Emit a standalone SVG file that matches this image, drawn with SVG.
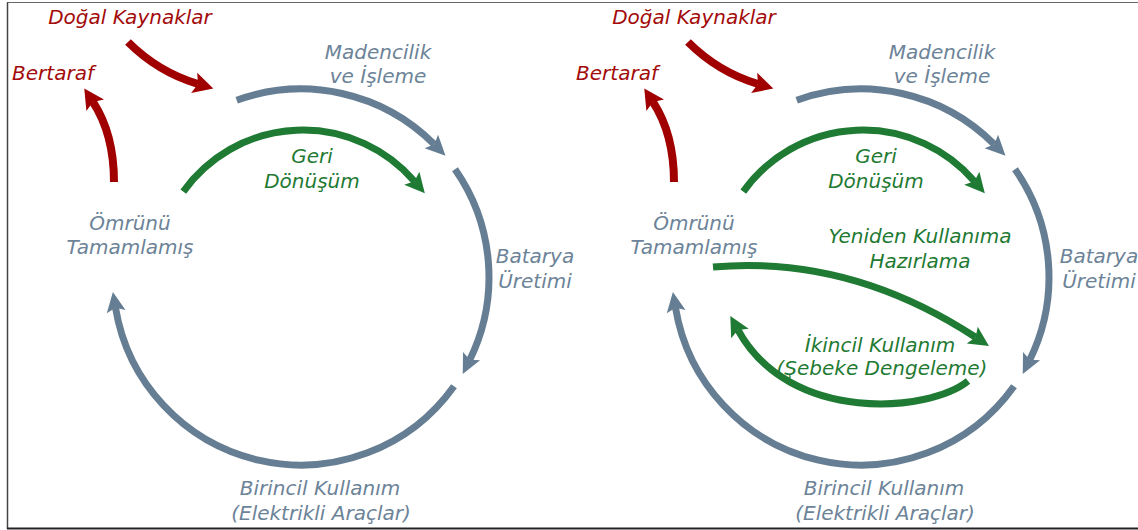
<svg xmlns="http://www.w3.org/2000/svg" width="1138" height="530" viewBox="0 0 1138 530">
<style>
text{font-family:"DejaVu Sans","Verdana",sans-serif;font-style:italic;font-size:20px;text-anchor:middle}
.g{fill:#6c8398}.r{fill:#a30b0b}.gr{fill:#1f7a33}
.cg{fill:none;stroke:#667e93;stroke-width:7}
.cr{fill:none;stroke:#a00000;stroke-width:8}
.cgr{fill:none;stroke:#1f7a33;stroke-width:7}
</style>
<defs>
<marker id="mg" markerUnits="userSpaceOnUse" markerWidth="40" markerHeight="40" viewBox="-20 -20 40 40" refX="0" refY="0" orient="auto" overflow="visible"><path d="M-4,-9.5 L16,0 L-4,9.5 L0,0 z" fill="#667e93"/></marker>
<marker id="mr" markerUnits="userSpaceOnUse" markerWidth="40" markerHeight="40" viewBox="-20 -20 40 40" refX="0" refY="0" orient="auto" overflow="visible"><path d="M-4,-10.5 L16,0 L-4,10.5 L0,0 z" fill="#a00000"/></marker>
<marker id="mgr" markerUnits="userSpaceOnUse" markerWidth="40" markerHeight="40" viewBox="-20 -20 40 40" refX="0" refY="0" orient="auto" overflow="visible"><path d="M-4,-10 L16,0 L-4,10 L0,0 z" fill="#1f7a33"/></marker>
</defs>
<rect width="1138" height="530" fill="#fff"/>
<g id="frame">
<line x1="7" y1="2.5" x2="1138" y2="2.5" stroke="#666" stroke-width="1.2"/>
<line x1="7.5" y1="2.5" x2="7.5" y2="529" stroke="#444" stroke-width="1.5"/>
<line x1="7" y1="528.5" x2="1138" y2="528.5" stroke="#222" stroke-width="2"/>
</g>
<g id="connectors">
<path class="cg" marker-end="url(#mg)" d="M236.7,100.3 A188,188 0 0 1 434.2,144.3"/>
<path class="cg" marker-end="url(#mg)" d="M455,169.2 A188,188 0 0 1 469.8,359.7"/>
<path class="cg" marker-end="url(#mg)" d="M454,386.2 A188,188 0 0 1 115.5,307.7"/>
<path class="cgr" marker-end="url(#mgr)" d="M183.3,191.6 A147,147 0 0 1 414.4,181.2"/>
<path class="cr" marker-end="url(#mr)" d="M128,42 Q158,72 198,84"/>
<path class="cr" marker-end="url(#mr)" d="M114,182 C114,150 108,125 93,102"/>
<path class="cg" marker-end="url(#mg)" d="M796.7,100.3 A188,188 0 0 1 994.2,144.3"/>
<path class="cg" marker-end="url(#mg)" d="M1015,169.2 A188,188 0 0 1 1029.8,359.7"/>
<path class="cg" marker-end="url(#mg)" d="M1014,386.2 A188,188 0 0 1 675.5,307.7"/>
<path class="cgr" marker-end="url(#mgr)" d="M743.3,191.6 A147,147 0 0 1 974.4,181.2"/>
<path class="cr" marker-end="url(#mr)" d="M688,42 Q718,72 758,84"/>
<path class="cr" marker-end="url(#mr)" d="M674,182 C674,150 668,125 653,102"/>
<path class="cgr" marker-end="url(#mgr)" d="M713,267 Q850,255 975.6,337.3"/>
<path class="cgr" marker-end="url(#mgr)" d="M968,381 C930,412 790,425 738,330"/>
</g>
<g id="left-dogal"><text class="r" x="130" y="24">Doğal Kaynaklar</text></g>
<g id="left-bertaraf"><text class="r" x="53" y="80">Bertaraf</text></g>
<g id="left-madencilik"><text class="g" x="378" y="59">Madencilik</text><text class="g" x="378" y="83">ve İşleme</text></g>
<g id="left-geri"><text class="gr" x="312" y="163">Geri</text><text class="gr" x="312" y="188">Dönüşüm</text></g>
<g id="left-omrunu"><text class="g" x="130" y="230">Ömrünü</text><text class="g" x="130" y="254">Tamamlamış</text></g>
<g id="left-batarya"><text class="g" x="535" y="263">Batarya</text><text class="g" x="535" y="288">Üretimi</text></g>
<g id="left-birincil"><text class="g" x="320" y="495">Birincil Kullanım</text><text class="g" x="321" y="520">(Elektrikli Araçlar)</text></g>
<g id="right-dogal"><text class="r" x="694" y="24">Doğal Kaynaklar</text></g>
<g id="right-bertaraf"><text class="r" x="617" y="80">Bertaraf</text></g>
<g id="right-madencilik"><text class="g" x="942" y="59">Madencilik</text><text class="g" x="942" y="83">ve İşleme</text></g>
<g id="right-geri"><text class="gr" x="876" y="163">Geri</text><text class="gr" x="876" y="188">Dönüşüm</text></g>
<g id="right-omrunu"><text class="g" x="694" y="230">Ömrünü</text><text class="g" x="694" y="254">Tamamlamış</text></g>
<g id="right-batarya"><text class="g" x="1099" y="263">Batarya</text><text class="g" x="1099" y="288">Üretimi</text></g>
<g id="right-birincil"><text class="g" x="884" y="495">Birincil Kullanım</text><text class="g" x="885" y="520">(Elektrikli Araçlar)</text></g>
<g id="right-yeniden"><text class="gr" x="920" y="243">Yeniden Kullanıma</text><text class="gr" x="920" y="268">Hazırlama</text></g>
<g id="right-ikincil"><text class="gr" x="880" y="352">İkincil Kullanım</text><text class="gr" x="882" y="375">(Şebeke Dengeleme)</text></g>
</svg>
